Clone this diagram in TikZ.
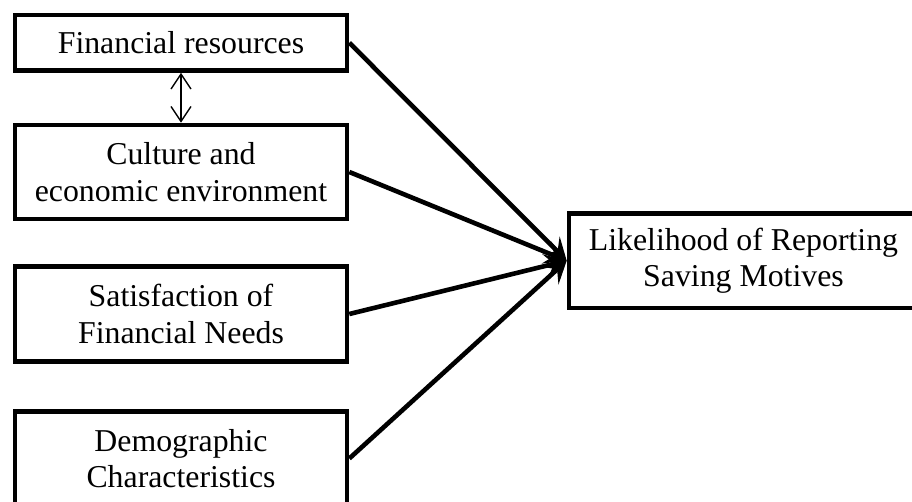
\documentclass[tikz,border=0pt]{standalone}
\usepackage{fontspec}
\setmainfont{Liberation Serif}
\usetikzlibrary{arrows.meta}
\begin{document}
\begin{tikzpicture}[x=1pt,y=-1pt,
  box/.style={draw=black, line width=4.6pt, rectangle, inner sep=0pt, align=center,
    font=\fontsize{31.8}{36.5}\selectfont, minimum width=332pt},
  mainarrow/.style={line width=4.6pt, -{Stealth[length=22pt,width=24pt,inset=9pt]}},
  biarrow/.style={line width=1.4pt, {Straight Barb[length=15pt,width=20pt]}-{Straight Barb[length=15pt,width=20pt]}}]
\useasboundingbox (0,0) rectangle (912,502);
\clip (0,0) rectangle (912,502);
\fill[white] (0,0) rectangle (912,502);
\node[box, minimum height=55.5pt] (fin) at (181,42.75) {Financial resources};
\node[box, minimum height=94pt] (cult) at (181,172) {Culture and\\economic environment};
\node[box, minimum height=94.5pt] (sat) at (181,314) {Satisfaction of\\Financial Needs};
\node[box, minimum height=94pt] (demo) at (181,458.5) {Demographic\\Characteristics};
\node[box, minimum width=349pt, minimum height=94.7pt] (like) at (743.5,260.7) {Likelihood of Reporting\\Saving Motives};
\draw[biarrow] (fin.south) -- (cult.north);
\draw[mainarrow] (fin.east) -- (like.west);
\draw[mainarrow] (cult.east) -- (like.west);
\draw[mainarrow] (sat.east) -- (like.west);
\draw[mainarrow] (demo.east) -- (like.west);
\end{tikzpicture}
\end{document}
